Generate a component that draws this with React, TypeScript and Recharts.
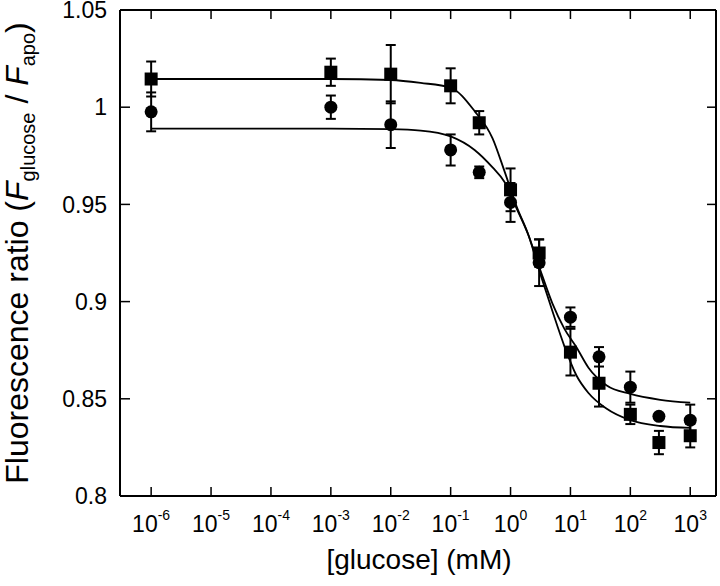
import { ComposedChart, XAxis, YAxis, Line, Scatter, ErrorBar } from 'recharts';

const FONT = '"Liberation Sans", Arial, Helvetica, sans-serif';

// glucose concentrations (mM) of the measured points
const glucose = [1e-6, 1e-3, 1e-2, 1e-1, 0.3, 1, 3, 10, 30, 100, 300, 1000];

// squares
const squareMean = [1.0145, 1.018, 1.017, 1.011, 0.992, 0.9575, 0.925, 0.874, 0.858, 0.842, 0.8275, 0.831];
const squareErr = [0.009, 0.007, 0.015, 0.009, 0.006, 0.011, 0.007, 0.012, 0.012, 0.005, 0.006, 0.006];

// circles
const circleMean = [0.9976, 1.0, 0.991, 0.978, 0.9665, 0.951, 0.92, 0.892, 0.8716, 0.856, 0.841, 0.839];
const circleErr = [0.01, 0.006, 0.012, 0.008, 0.003, 0.01, 0.012, 0.005, 0.005, 0.008, 0.001, 0.008];

// fitted curves
const fitGlucose = [1e-6, 1e-3, 0.01, 0.0316, 0.1, 0.251, 0.501, 0.794, 1.26, 2.0, 3.16, 5.01, 7.94, 12.6, 20, 39.8, 100, 316, 1000];
const squareFit = [1.0145, 1.0145, 1.014, 1.0125, 1.01, 0.998, 0.984, 0.967, 0.949, 0.934, 0.914, 0.895, 0.877, 0.862, 0.853, 0.845, 0.839, 0.836, 0.835];
const circleFit = [0.989, 0.989, 0.9887, 0.988, 0.985, 0.978, 0.969, 0.9615, 0.948, 0.934, 0.916, 0.899, 0.886, 0.8765, 0.866, 0.857, 0.8525, 0.8495, 0.848];

const xTicks = [1e-6, 1e-5, 1e-4, 1e-3, 1e-2, 1e-1, 1, 10, 100, 1000];
const xTickExp = ['-6', '-5', '-4', '-3', '-2', '-1', '0', '1', '2', '3'];
const yTicks = [0.8, 0.85, 0.9, 0.95, 1, 1.05];
const yTickLabels = ['0.8', '0.85', '0.9', '0.95', '1', '1.05'];

const squarePts = glucose.map((x, i) => ({ x, y: squareMean[i], err: squareErr[i] }));
const circlePts = glucose.map((x, i) => ({ x, y: circleMean[i], err: circleErr[i] }));
const squareLine = fitGlucose.map((x, i) => ({ x, y: squareFit[i] }));
const circleLine = fitGlucose.map((x, i) => ({ x, y: circleFit[i] }));

const XDOMAIN: [number, number] = [Math.pow(10, -6.52), Math.pow(10, 3.43)];

const BottomTick = (props: any) => {
  const { x, y, index } = props;
  return (
    <g>
      <line x1={x} y1={y} x2={x} y2={y - 9} stroke="#000" strokeWidth={1.5} />
      <text x={x} y={y + 36} textAnchor="middle" fontFamily={FONT} fill="#000">
        <tspan fontSize={23}>10</tspan>
        <tspan fontSize={14} dy={-12}>{xTickExp[index]}</tspan>
      </text>
    </g>
  );
};

const TopTick = (props: any) => {
  const { x, y } = props;
  return <line x1={x} y1={y} x2={x} y2={y + 9} stroke="#000" strokeWidth={1.5} />;
};

const LeftTick = (props: any) => {
  const { x, y, index } = props;
  return (
    <g>
      <line x1={x} y1={y} x2={x + 10} y2={y} stroke="#000" strokeWidth={1.5} />
      <text x={x - 13} y={y} dy="0.36em" textAnchor="end" fontSize={23} fontFamily={FONT} fill="#000">
        {yTickLabels[index]}
      </text>
    </g>
  );
};

const RightTick = (props: any) => {
  const { x, y } = props;
  return <line x1={x} y1={y} x2={x - 9} y2={y} stroke="#000" strokeWidth={1.5} />;
};

const SquareShape = (props: any) => (
  <rect x={props.cx - 6.5} y={props.cy - 6.5} width={13} height={13} fill="#000" />
);

const CircleShape = (props: any) => <circle cx={props.cx} cy={props.cy} r={6.5} fill="#000" />;

export default function App() {
  return (
    <div style={{ position: 'absolute', left: 0, top: 0, background: '#fff' }}>
      <ComposedChart width={720} height={586} margin={{ top: 0, right: 0, bottom: 0, left: 0 }}>
        <XAxis
          dataKey="x"
          type="number"
          scale="log"
          domain={XDOMAIN}
          allowDataOverflow
          ticks={xTicks}
          interval={0}
          height={90}
          tickSize={0}
          tickMargin={0}
          tickLine={false}
          tick={<BottomTick />}
          axisLine={{ stroke: '#000', strokeWidth: 2 }}
        />
        <XAxis
          xAxisId="top"
          orientation="top"
          dataKey="x"
          type="number"
          scale="log"
          domain={XDOMAIN}
          allowDataOverflow
          ticks={xTicks}
          interval={0}
          height={10}
          tickSize={0}
          tickMargin={0}
          tickLine={false}
          tick={<TopTick />}
          axisLine={{ stroke: '#000', strokeWidth: 2 }}
        />
        <YAxis
          type="number"
          domain={[0.8, 1.05]}
          allowDataOverflow
          ticks={yTicks}
          interval={0}
          width={120}
          tickSize={0}
          tickMargin={0}
          tickLine={false}
          tick={<LeftTick />}
          axisLine={{ stroke: '#000', strokeWidth: 2 }}
        />
        <YAxis
          yAxisId="right"
          orientation="right"
          type="number"
          domain={[0.8, 1.05]}
          allowDataOverflow
          ticks={yTicks}
          interval={0}
          width={4}
          tickSize={0}
          tickMargin={0}
          tickLine={false}
          tick={<RightTick />}
          axisLine={{ stroke: '#000', strokeWidth: 2 }}
        />
        <Line data={squareLine} dataKey="y" type="monotone" stroke="#000" strokeWidth={1.8} dot={false} activeDot={false} isAnimationActive={false} />
        <Line data={circleLine} dataKey="y" type="monotone" stroke="#000" strokeWidth={1.8} dot={false} activeDot={false} isAnimationActive={false} />
        <Scatter data={squarePts} dataKey="y" shape={SquareShape} isAnimationActive={false}>
          <ErrorBar dataKey="err" direction="y" width={5} stroke="#000" strokeWidth={2} />
        </Scatter>
        <Scatter data={circlePts} dataKey="y" shape={CircleShape} isAnimationActive={false}>
          <ErrorBar dataKey="err" direction="y" width={5} stroke="#000" strokeWidth={2} />
        </Scatter>
        <text x={419} y={569} textAnchor="middle" fontSize={28} fontFamily={FONT} fill="#000">
          [glucose] (mM)
        </text>
        <text
          x={28}
          y={253}
          transform="rotate(-90, 28, 253)"
          textAnchor="middle"
          fontSize={32}
          fontFamily={FONT}
          fill="#000"
        >
          <tspan>Fluorescence ratio (</tspan>
          <tspan fontStyle="italic">F</tspan>
          <tspan fontSize={20} dy={7}>glucose</tspan>
          <tspan dy={-7}> / </tspan>
          <tspan fontStyle="italic">F</tspan>
          <tspan fontSize={20} dy={7}>apo</tspan>
          <tspan dy={-7}>)</tspan>
        </text>
      </ComposedChart>
    </div>
  );
}
